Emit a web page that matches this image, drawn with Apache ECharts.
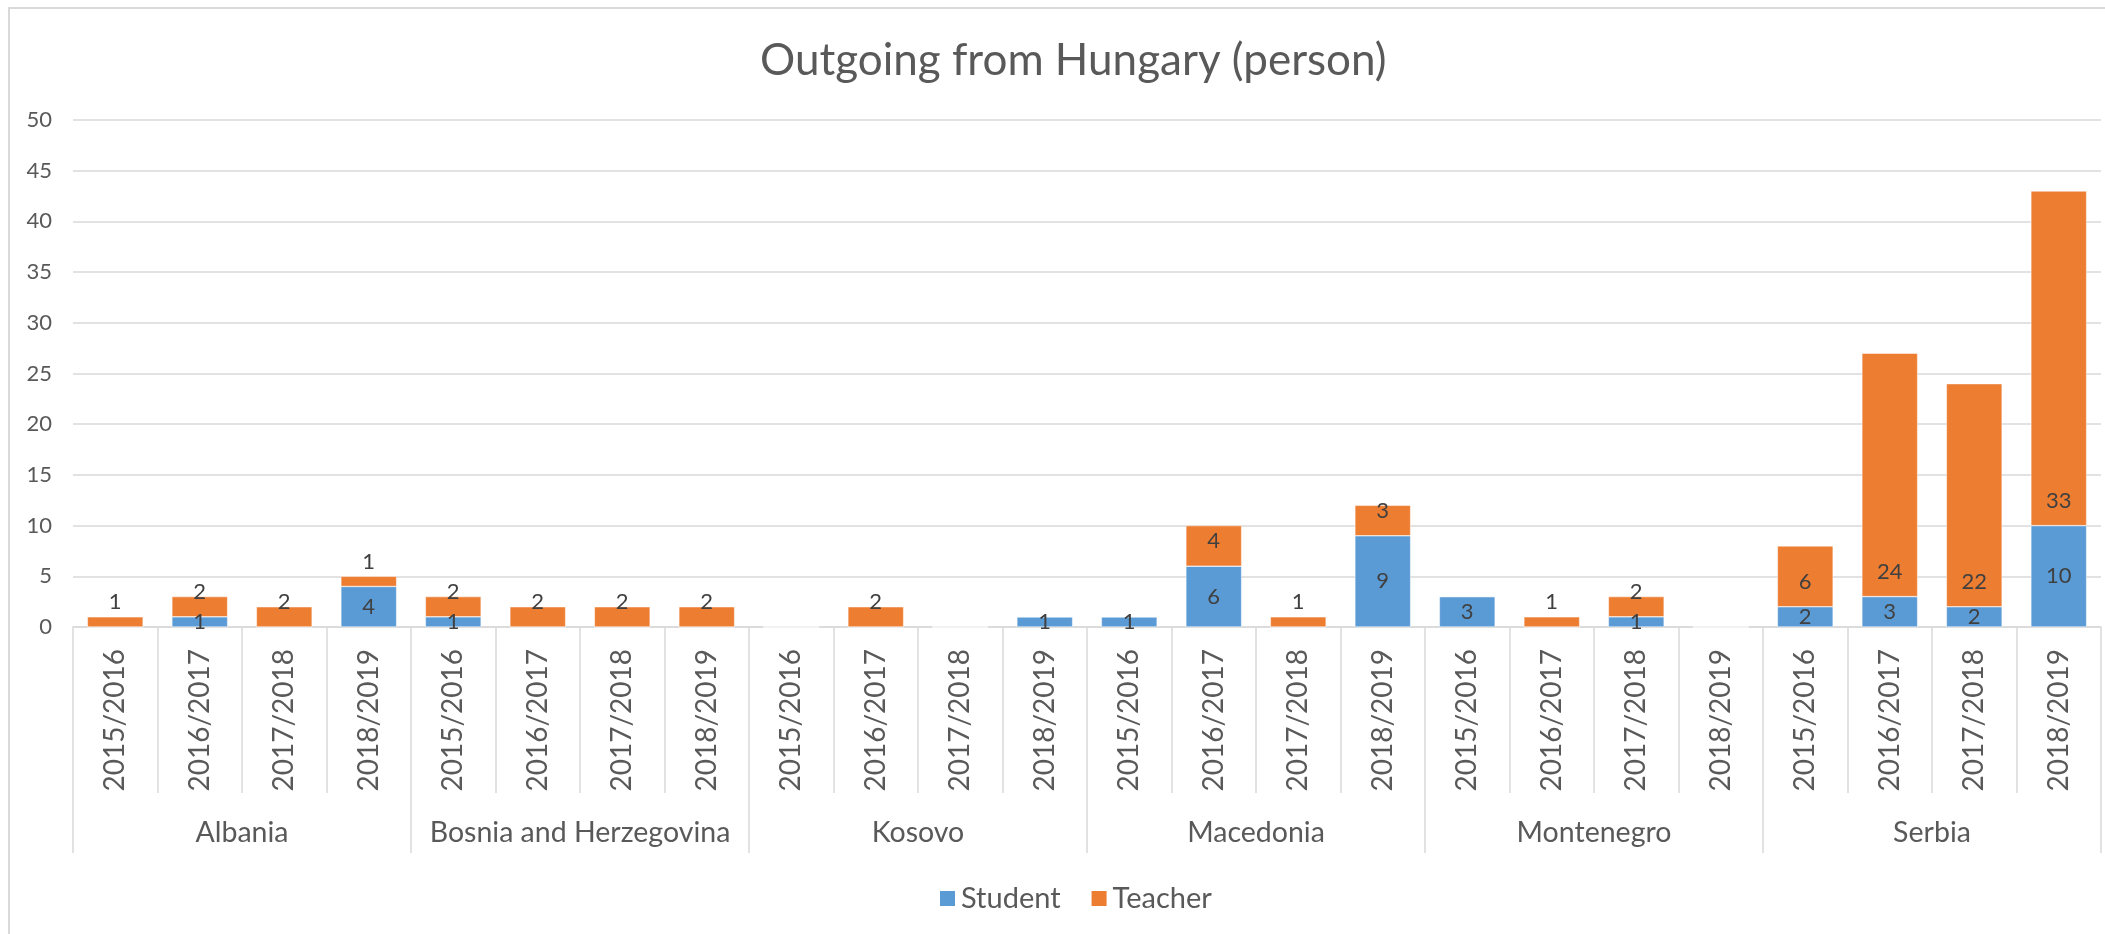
<!DOCTYPE html>
<html>
<head>
<meta charset="utf-8">
<title>Outgoing from Hungary (person)</title>
<script src="https://cdn.jsdelivr.net/npm/echarts@6/dist/echarts.min.js"></script>
<style>
  html, body { margin: 0; padding: 0; background: #fff; }
  #chart { width: 2105px; height: 934px; }
</style>
</head>
<body>
<div id="chart"></div>
<script>
// data
const countries = ["Albania", "Bosnia and Herzegovina", "Kosovo", "Macedonia", "Montenegro", "Serbia"];
const years = ["2015/2016", "2016/2017", "2017/2018", "2018/2019"];
const student = [0, 1, 0, 4,  1, 0, 0, 0,  0, 0, 0, 1,  1, 6, 0, 9,  3, 0, 1, 0,  2, 3, 2, 10];
const teacher = [1, 2, 2, 1,  2, 2, 2, 2,  0, 2, 0, 0,  0, 4, 1, 3,  0, 1, 2, 0,  6, 24, 22, 33];

const yearLabels = countries.flatMap(() => years);

const font = "Lato, 'Liberation Sans', sans-serif";
const grey = "#d9d9d9";
const textGrey = "#595959";

const chart = echarts.init(document.getElementById("chart"));

function hideZero(p) {
  return p.value ? p.value : "";
}

const option = {
  animation: false,
  textStyle: { fontFamily: font },
  title: {
    text: "Outgoing from Hungary (person)",
    left: 755,
    top: 34,
    textStyle: { fontSize: 44, fontWeight: "normal", color: textGrey, fontFamily: font }
  },
  legend: {
    top: 879,
    left: 933,
    itemWidth: 17,
    itemHeight: 17,
    itemGap: 29,
    icon: "rect",
    textStyle: { fontSize: 29, color: textGrey, fontFamily: font },
    data: ["Student", "Teacher"]
  },
  graphic: [
    {
      type: "polyline",
      shape: { points: [[9, 934], [9, 8], [2105, 8]] },
      style: { fill: "none", stroke: grey, lineWidth: 2 },
      silent: true
    }
  ],
  grid: { left: 73, right: 4, top: 120, bottom: 307 },
  xAxis: [
    {
      type: "category",
      data: yearLabels,
      axisLine: { show: true, lineStyle: { color: grey, width: 1.5 } },
      axisTick: { show: true, length: 166, interval: 0, lineStyle: { color: grey, width: 1.5 } },
      axisLabel: { rotate: 90, interval: 0, margin: 22, fontSize: 28, color: textGrey, fontFamily: font }
    },
    {
      type: "category",
      position: "bottom",
      data: countries,
      axisLine: { show: false },
      axisTick: { show: true, length: 226, interval: 0, lineStyle: { color: grey, width: 1.5 } },
      axisLabel: { interval: 0, margin: 191, fontSize: 28.5, color: textGrey, fontFamily: font }
    }
  ],
  yAxis: {
    type: "value",
    min: 0,
    max: 50,
    interval: 5,
    axisLine: { show: false },
    axisTick: { show: false },
    axisLabel: { margin: 21, fontSize: 22, color: textGrey, fontFamily: font },
    splitLine: { lineStyle: { color: grey, width: 1.5 } }
  },
  series: [
    {
      name: "Student",
      type: "bar",
      stack: "total",
      barCategoryGap: "34%",
      data: student,
      itemStyle: { color: "#5b9bd5", borderColor: "#fff", borderWidth: 0.5 },
      label: {
        show: true,
        position: "inside",
        formatter: hideZero,
        fontSize: 22,
        color: "#404040",
        fontFamily: font
      }
    },
    {
      name: "Teacher",
      type: "bar",
      stack: "total",
      data: teacher,
      itemStyle: { color: "#ed7d31", borderColor: "#fff", borderWidth: 0.5 },
      label: {
        show: true,
        position: "insideBottom",
        distance: 14,
        formatter: hideZero,
        fontSize: 22,
        color: "#404040",
        fontFamily: font
      }
    }
  ]
};

chart.setOption(option);
</script>
</body>
</html>
